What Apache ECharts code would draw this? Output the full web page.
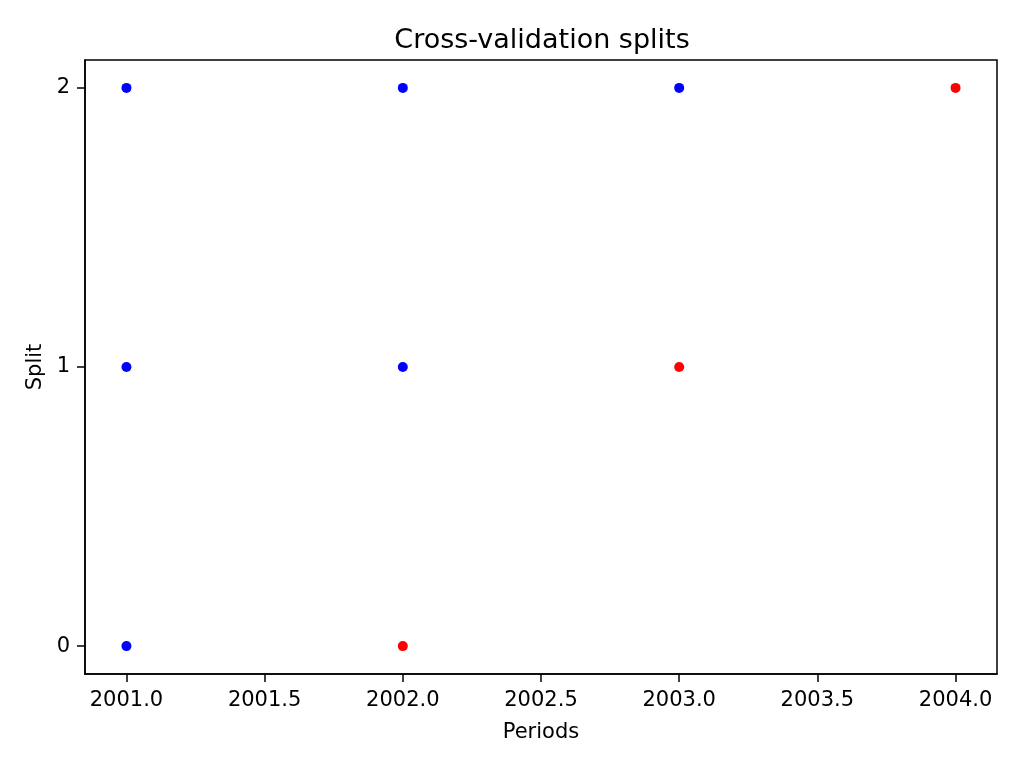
<!DOCTYPE html>
<html>
<head>
<meta charset="utf-8">
<script src="https://cdn.jsdelivr.net/npm/echarts@6/dist/echarts.min.js"></script>
<style>
html,body{margin:0;padding:0;background:#fff;}
#chart{width:1024px;height:768px;}
</style>
</head>
<body>
<div id="chart"></div>
<script>
// Data
const splits = [0, 1, 2];
const trainPeriods = [[2001], [2001, 2002], [2001, 2002, 2003]];
const testPeriods = [[2002], [2003], [2004]];
const xTicks = [2001.0, 2001.5, 2002.0, 2002.5, 2003.0, 2003.5, 2004.0];
const yTicks = [0, 1, 2];

const trainData = [];
const testData = [];
splits.forEach((s, i) => {
  trainPeriods[i].forEach(p => trainData.push([p, s]));
  testPeriods[i].forEach(p => testData.push([p, s]));
});

const font = 'DejaVu Sans';
const chart = echarts.init(document.getElementById('chart'), null, {renderer: 'canvas'});
chart.setOption({
  backgroundColor: '#fff',
  animation: false,
  title: {
    text: 'Cross-validation splits',
    left: 537, top: 22, textAlign: 'center',
    textStyle: {fontFamily: font, fontSize: 27, fontWeight: 'normal', color: '#000'}
  },
  grid: {
    left: 85, right: 27, top: 60, bottom: 94,
    show: true, borderColor: '#000', borderWidth: 1.5, backgroundColor: 'transparent'
  },
  xAxis: {
    type: 'value', min: 2000.85, max: 2004.15,
    name: 'Periods', nameLocation: 'middle', nameGap: 48,
    nameTextStyle: {fontFamily: font, fontSize: 21, color: '#000'},
    axisLine: {show: true, onZero: false, lineStyle: {color: '#000', width: 1.5}},
    axisTick: {show: true, inside: false, length: 8, customValues: xTicks, lineStyle: {color: '#000', width: 1.5}},
    axisLabel: {customValues: xTicks, margin: 16, fontFamily: font, fontSize: 21, color: '#000',
      formatter: v => Number(v).toFixed(1)},
    splitLine: {show: false}
  },
  yAxis: {
    type: 'value', min: -0.1, max: 2.1,
    name: 'Split', nameLocation: 'middle', nameGap: 39, nameRotate: 90,
    nameTextStyle: {fontFamily: font, fontSize: 21, color: '#000'},
    axisLine: {show: true, onZero: false, lineStyle: {color: '#000', width: 1.5}},
    axisTick: {show: true, inside: false, length: 8, customValues: yTicks, lineStyle: {color: '#000', width: 1.5}},
    axisLabel: {customValues: yTicks, margin: 15, fontFamily: font, fontSize: 21, color: '#000',
      formatter: v => String(v)},
    splitLine: {show: false}
  },
  series: [
    {type: 'scatter', name: 'train', data: trainData, symbolSize: 10, itemStyle: {color: '#0000ff', opacity: 1}},
    {type: 'scatter', name: 'test', data: testData, symbolSize: 10, itemStyle: {color: '#ff0000', opacity: 1}}
  ]
});
</script>
</body>
</html>
